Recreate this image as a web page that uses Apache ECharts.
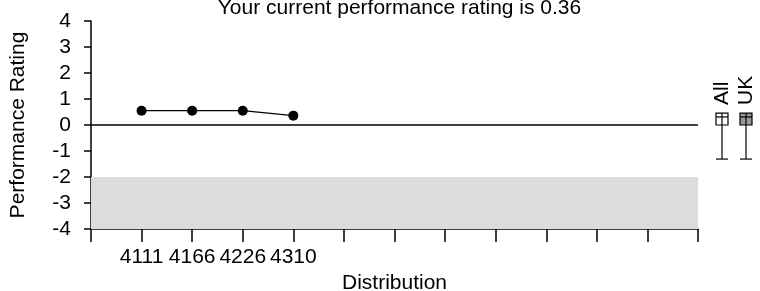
<!DOCTYPE html>
<html>
<head>
<meta charset="utf-8">
<script src="https://cdn.jsdelivr.net/npm/echarts@6/dist/echarts.min.js"></script>
<style>
  html, body { margin: 0; padding: 0; background: #fff; }
  #main { width: 760px; height: 291px; }
</style>
</head>
<body>
<div id="main"></div>
<script>
// x slots (13 tick positions, only 4 labelled)
const distributions = ["", "4111", "4166", "4226", "4310", "", "", "", "", "", "", "", ""];
const ratings = [null, 0.55, 0.55, 0.55, 0.36, null, null, null, null, null, null, null, null];
const yTicks = [-4, -3, -2, -1, 0, 1, 2, 3, 4];
const badBand = [-2, -4];

// spread of ratings: [low whisker, q1, median, q3]
const groups = ["All", "UK"];
const groupStats = [
  [-1.31, 0, 0.31, 0.46],
  [-1.31, 0, 0.31, 0.46],
];
const groupFill = ["#ffffff", "#999999"];

const font = "Liberation Sans, Arial, sans-serif";
const fs = 21;
const chart = echarts.init(document.getElementById("main"));

chart.setOption({
  animation: false,
  textStyle: { fontFamily: font },
  title: {
    text: "Your current performance rating is 0.36",
    left: 394.5,
    textAlign: "center",
    top: -7,
    textStyle: { fontFamily: font, fontSize: fs, fontWeight: "normal", color: "#000" },
  },
  grid: [
    { left: 91, right: 62, top: 21, bottom: 62, containLabel: false, outerBoundsMode: "none" },
    { left: 710, width: 48, top: 112, bottom: 62, containLabel: false, outerBoundsMode: "none" },
  ],
  xAxis: [
    {
      type: "category",
      gridIndex: 0,
      data: distributions,
      boundaryGap: false,
      name: "Distribution",
      nameLocation: "middle",
      nameGap: 40,
      nameTextStyle: { fontSize: fs, color: "#000", fontFamily: font },
      axisLine: { onZero: false, lineStyle: { color: "#000", width: 1.5 } },
      axisTick: { show: true, interval: 0, length: 13, lineStyle: { color: "#000", width: 1.5 } },
      axisLabel: { interval: 0, fontSize: fs, color: "#000", margin: 18, fontFamily: font },
      splitLine: { show: false },
    },
    {
      type: "category",
      gridIndex: 1,
      data: groups,
      position: "top",
      axisLine: { show: false, onZero: false },
      axisTick: { show: false },
      axisLabel: { interval: 0, rotate: -90, fontSize: fs, color: "#000", margin: 7, fontFamily: font, hideOverlap: false },
      splitLine: { show: false },
    },
  ],
  yAxis: [
    {
      type: "value",
      gridIndex: 0,
      min: yTicks[0],
      max: yTicks[yTicks.length - 1],
      interval: 1,
      name: "Performance Rating",
      nameLocation: "middle",
      nameGap: 62,
      nameTextStyle: { fontSize: fs, color: "#000", fontFamily: font },
      axisLine: { show: true, onZero: false, lineStyle: { color: "#000", width: 1.5 } },
      axisTick: { show: true, length: 7, lineStyle: { color: "#000", width: 1.5 } },
      axisLabel: { fontSize: fs, color: "#000", margin: 20, fontFamily: font },
      splitLine: { show: false },
    },
    {
      type: "value",
      gridIndex: 1,
      min: -4,
      max: 0.5,
      show: false,
    },
  ],
  series: [
    {
      type: "line",
      xAxisIndex: 0,
      yAxisIndex: 0,
      data: ratings,
      symbol: "circle",
      symbolSize: 10,
      itemStyle: { color: "#000" },
      lineStyle: { color: "#000", width: 1.3 },
      markArea: {
        silent: true,
        itemStyle: { color: "#dcdcdc" },
        data: [[{ yAxis: badBand[0] }, { yAxis: badBand[1] }]],
      },
      markLine: {
        silent: true,
        symbol: "none",
        label: { show: false },
        lineStyle: { color: "#000", width: 1.5, type: "solid" },
        data: [{ yAxis: 0 }],
      },
    },
    {
      type: "custom",
      xAxisIndex: 1,
      yAxisIndex: 1,
      data: groupStats.map((s, i) => [i].concat(s)),
      renderItem: function (params, api) {
        const i = api.value(0);
        const low = api.coord([i, api.value(1)]);
        const q1 = api.coord([i, api.value(2)]);
        const med = api.coord([i, api.value(3)]);
        const q3 = api.coord([i, api.value(4)]);
        const x = low[0];
        const hw = 6;
        const stroke = { stroke: "#000", lineWidth: 1.2 };
        return {
          type: "group",
          children: [
            { type: "rect", shape: { x: x - hw, y: q3[1], width: hw * 2, height: q1[1] - q3[1] },
              style: { fill: groupFill[i], stroke: "#000", lineWidth: 1.2 } },
            { type: "line", shape: { x1: x - hw, y1: med[1], x2: x + hw, y2: med[1] }, style: stroke },
            { type: "line", shape: { x1: x, y1: q3[1], x2: x, y2: low[1] }, style: stroke },
            { type: "line", shape: { x1: x - hw, y1: low[1], x2: x + hw, y2: low[1] }, style: stroke },
          ],
        };
      },
    },
  ],
});
</script>
</body>
</html>
